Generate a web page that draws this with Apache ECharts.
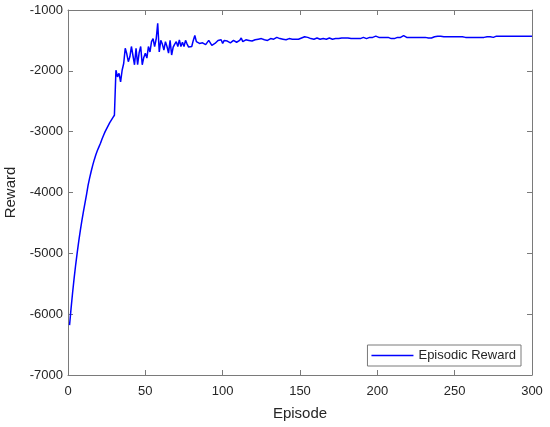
<!DOCTYPE html>
<html>
<head>
<meta charset="utf-8">
<script src="https://cdn.jsdelivr.net/npm/echarts@6/dist/echarts.min.js"></script>
<style>
  html, body { margin: 0; padding: 0; background: #fff; }
  #chart { width: 550px; height: 427px; }
</style>
</head>
<body>
<div id="chart"></div>
<script>
// episodic reward, one value per episode (1..300)
const rewardWarmup = [
  -6180, -5900, -5640, -5400, -5180, -4980, -4790, -4620, -4460, -4310,
  -4170, -4030, -3880, -3760, -3650, -3550, -3460, -3380, -3310, -3250,
  -3190, -3120, -3060, -3000, -2950, -2900, -2850, -2810, -2770, -2730
];
const rewardNoisy = [
  -1990, -2100, -2040, -2180, -1990, -1880, -1630, -1720, -1850, -1770,
  -1600, -1610, -1900, -1630, -1900, -1700, -1600, -1900, -1780, -1710,
  -1790, -1600, -1690, -1520, -1470, -1600, -1480, -1220, -1690, -1500,
  -1560, -1660, -1520, -1600, -1710, -1500, -1740, -1610, -1560, -1520,
  -1600, -1490, -1600, -1530, -1600, -1500, -1560, -1610, -1580, -1600,
  -1500, -1420, -1520, -1540, -1550, -1560, -1540, -1560, -1570, -1560,
  -1500, -1510, -1580, -1570, -1550, -1530, -1500, -1470, -1490, -1550,
  -1500, -1470, -1510, -1490, -1540, -1520, -1500, -1530, -1530, -1510
];
const rewardSettled = [
  -1500, -1460, -1520, -1500, -1490, -1510, -1500, -1480, -1510, -1500,
  -1490, -1500, -1480, -1500, -1470, -1440, -1490, -1480, -1500, -1490,
  -1470, -1490, -1480, -1460, -1450, -1480, -1470, -1490, -1480, -1470,
  -1490, -1480, -1470, -1490, -1480, -1470, -1480, -1460, -1480, -1470,
  -1460, -1450, -1440, -1430, -1450, -1440, -1470, -1460, -1480, -1470,
  -1460, -1470, -1480, -1460, -1470, -1460, -1480, -1470, -1460, -1470,
  -1480, -1460, -1470, -1460, -1470, -1480, -1460, -1470, -1460, -1470,
  -1460, -1450, -1470, -1460, -1470, -1460, -1470, -1460, -1470, -1460,
  -1450, -1460, -1470, -1460, -1450, -1460, -1450, -1440, -1430, -1440
];
const rewardFinal = [
  -1450, -1460, -1450, -1460, -1450, -1460, -1450, -1460, -1470, -1460,
  -1470, -1460, -1450, -1440, -1450, -1430, -1420, -1440, -1450, -1440,
  -1450, -1440, -1450, -1460, -1450, -1460, -1450, -1460, -1450, -1460,
  -1450, -1460, -1460, -1470, -1460, -1450, -1440, -1450, -1430, -1440,
  -1430, -1450, -1440, -1460, -1440, -1450, -1440, -1450, -1440, -1450,
  -1440, -1450, -1440, -1430, -1440, -1430, -1450, -1440, -1450, -1440,
  -1450, -1440, -1450, -1440, -1450, -1440, -1450, -1440, -1450, -1450,
  -1440, -1450, -1440, -1440, -1450, -1440, -1430, -1440, -1430, -1440,
  -1430, -1440, -1430, -1440, -1430, -1440, -1430, -1440, -1430, -1440,
  -1430, -1440, -1430, -1440, -1430, -1440, -1430, -1440, -1430, -1430
];
const xTicks = [0, 50, 100, 150, 200, 250, 300];
const yTicks = [-7000, -6000, -5000, -4000, -3000, -2000, -1000];

const rewards = rewardWarmup.concat(rewardNoisy, rewardSettled, rewardFinal);
const seriesData = rewards.map((v, i) => [i + 1, v]);

const font = "'Liberation Sans', Arial, sans-serif";
const axisGray = "#7a7a7a";
const textDark = "#262626";

function boxAxis(extra) {
  return Object.assign({
    type: "value",
    axisLine: { show: true, onZero: false, lineStyle: { color: axisGray, width: 1 } },
    axisTick: { show: true, inside: true, length: 5, lineStyle: { color: axisGray } },
    splitLine: { show: false },
    axisLabel: { show: false }
  }, extra);
}

const chart = echarts.init(document.getElementById("chart"));
chart.setOption({
  animation: false,
  backgroundColor: "#fff",
  textStyle: { fontFamily: font },
  grid: { left: 68, right: 18, top: 10, bottom: 52, containLabel: false, outerBoundsMode: "none" },
  legend: {
    data: [{ name: "Episodic Reward", icon: "rect" }],
    right: 29,
    top: 345,
    orient: "vertical",
    backgroundColor: "#fff",
    borderColor: axisGray,
    borderWidth: 1,
    borderRadius: 0,
    padding: [3, 5, 3, 4],
    itemWidth: 42,
    itemHeight: 1.5,
    itemGap: 0,
    itemStyle: { color: "#0000ff", borderWidth: 0 },
    textStyle: { fontFamily: font, fontSize: 13, color: textDark, lineHeight: 15 }
  },
  xAxis: [
    boxAxis({
      min: xTicks[0], max: xTicks[xTicks.length - 1], interval: 50,
      position: "bottom",
      axisLabel: { show: true, fontSize: 13, color: textDark, margin: 10, fontFamily: font },
      name: "Episode",
      nameLocation: "middle",
      nameGap: 31,
      nameTextStyle: { fontSize: 15, color: textDark, fontFamily: font }
    }),
    boxAxis({
      min: xTicks[0], max: xTicks[xTicks.length - 1], interval: 50,
      position: "top"
    })
  ],
  yAxis: [
    boxAxis({
      min: yTicks[0], max: yTicks[yTicks.length - 1], interval: 1000,
      position: "left",
      axisLabel: {
        show: true, fontSize: 13, color: textDark, margin: 5, fontFamily: font,
        formatter: v => String(v)
      },
      name: "Reward",
      nameLocation: "middle",
      nameGap: 42,
      nameTextStyle: { fontSize: 15, color: textDark, fontFamily: font }
    }),
    boxAxis({
      min: yTicks[0], max: yTicks[yTicks.length - 1], interval: 1000,
      position: "right"
    })
  ],
  series: [
    {
      name: "Episodic Reward",
      type: "line",
      xAxisIndex: 0,
      yAxisIndex: 0,
      data: seriesData,
      symbol: "none",
      showSymbol: false,
      lineStyle: { color: "#0000ff", width: 1.5 },
      itemStyle: { color: "#0000ff" }
    }
  ]
});
</script>
</body>
</html>
